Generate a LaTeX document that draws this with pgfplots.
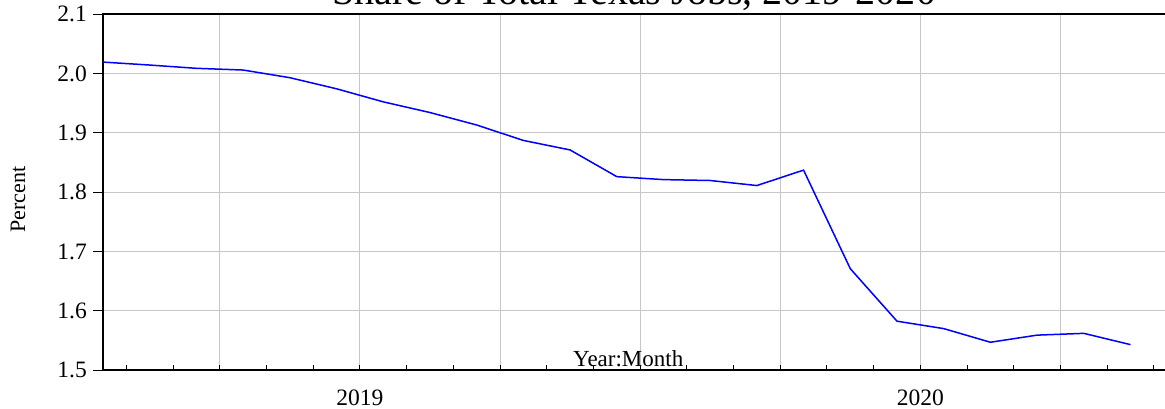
\documentclass[border=0pt]{standalone}
\usepackage{fontspec}
\setmainfont{Liberation Serif}
\usepackage{pgfplots}
\pgfplotsset{compat=1.18}
\usetikzlibrary{calc}

% share of Texas jobs, monthly, Jan 2019 = 0
\pgfplotstableread{
m  share
0  2.019
1  2.014
2  2.0085
3  2.0056
4  1.9927
5  1.974
6  1.952
7  1.934
8  1.913
9  1.887
10 1.871
11 1.826
12 1.821
13 1.8195
14 1.811
15 1.837
16 1.671
17 1.5825
18 1.570
19 1.547
20 1.559
21 1.562
22 1.543
}\sharedata

\begin{document}
\begin{tikzpicture}
\begin{axis}[
  name=main,
  scale only axis,
  width=1062pt, height=356pt,
  xmin=0, xmax=22.75,
  ymin=1.5, ymax=2.1,
  clip=false,
  axis line style={black, line width=1.4pt},
  ytick={1.5,1.6,1.7,1.8,1.9,2.0,2.1},
  yticklabel style={/pgf/number format/fixed, /pgf/number format/precision=1,
    /pgf/number format/fixed zerofill, anchor=east, inner sep=0pt, xshift=-16pt},
  /pgf/number format/assume math mode=true,
  xtick={2.5,5.5,8.5,11.5,14.5,17.5,20.5},
  xticklabels={,2019,,,,2020,},
  xticklabel style={anchor=base, inner sep=0pt, yshift=-35pt},
  minor xtick={0.5,1.5,...,22.5},
  xtick pos=bottom, ytick pos=left,
  tick align=inside,
  major tick length=10pt, minor tick length=5.5pt,
  tick style={black, line width=1pt},
  major x tick style={draw=none},
  y tick style={xshift=-10pt},
  grid=major,
  major grid style={black!22, line width=1pt},
  ticklabel style={font=\rmfamily\fontsize{23.5}{27}\selectfont},
  title={Share of Total Texas Jobs, 2019-2020},
  title style={at={(0.5,1)}, anchor=base, yshift=3pt, inner sep=0pt,
    font=\rmfamily\fontsize{40}{46}\selectfont},
]
\addplot[blue, line width=1.5pt] table[x=m, y=share] {\sharedata};
\node[anchor=base, inner sep=0pt, font=\rmfamily\fontsize{23}{27}\selectfont]
  at (rel axis cs:0.5,0) [xshift=-6pt, yshift=3.5pt] {Year:Month};
\node[rotate=90, anchor=center, inner sep=0pt, font=\rmfamily\fontsize{22}{26}\selectfont]
  at (axis cs:-1.82,1.787) {Percent};
\end{axis}
\pgfresetboundingbox
\path[use as bounding box] ($(main.south west)+(-103pt,-38pt)$) rectangle ($(main.north east)+(-0.5pt,14pt)$);
\end{tikzpicture}
\end{document}
